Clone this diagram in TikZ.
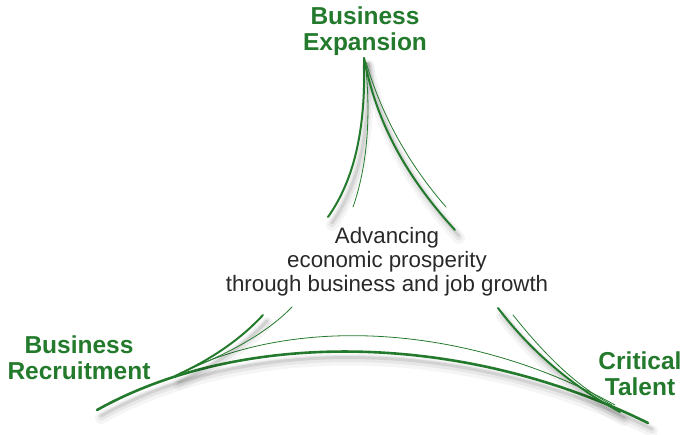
\documentclass[tikz,border=0pt]{standalone}
\usepackage{fontspec}
\setmainfont{Liberation Sans}
\definecolor{lgreen}{RGB}{36,122,44}
\definecolor{ctext}{RGB}{40,40,40}
\tikzset{
  shadowed/.style={preaction={draw=black,opacity=0.04,line width=12pt,line cap=round,transform canvas={shift={(4pt,-8pt)}}},
                   preaction={draw=black,opacity=0.06,line width=7pt,line cap=round,transform canvas={shift={(4pt,-7pt)}}},
                   preaction={draw=black,opacity=0.09,line width=3pt,line cap=round,transform canvas={shift={(4pt,-6pt)}}}},
  thickleaf/.style={draw=lgreen,line width=2pt,line cap=round,shadowed},
  thinleaf/.style={draw=lgreen,line width=0.8pt,line cap=round},
  head/.style={text=lgreen,font=\bfseries\fontsize{24.5}{26}\selectfont,align=center,inner sep=0pt},
  body/.style={text=ctext,font=\fontsize{22.3}{24}\selectfont,align=center,inner sep=0pt},
}
\begin{document}
\begin{tikzpicture}[x=1pt,y=-1pt]
\useasboundingbox (0,0) rectangle (684,434);
% top branch
\draw[thickleaf] (364,58) .. controls (366,130) and (354,180) .. (328,217);
\draw[thinleaf]  (365,60) .. controls (372,120) and (366,170) .. (353,207);
\draw[thickleaf] (364,58) .. controls (375,115) and (400,170) .. (455,230);
\draw[thinleaf]  (366,62) .. controls (380,110) and (405,160) .. (446,207);
% bottom arch
\draw[thickleaf,line width=2.6pt] (97,410) .. controls (240,330) and (460,330) .. (648,423);
\draw[thinleaf]  (185,371) .. controls (300,315) and (470,325) .. (615,405);
% left branches
\draw[thickleaf] (175,376) .. controls (210,360) and (240,340) .. (263,315);
\draw[thinleaf]  (180,373) .. controls (225,355) and (265,335) .. (292,307);
% right branches
\draw[thickleaf] (498,308) .. controls (530,350) and (570,385) .. (620,412);
\draw[thinleaf]  (513,315) .. controls (545,355) and (575,385) .. (612,405);
% labels
\node[head] (exp) at (365,31) {Business\\Expansion};
\node[head] (rec) at (79,358) {Business\\Recruitment};
\node[head] (tal) at (640,374) {Critical\\Talent};
\node[body] (mid) at (387,262) {Advancing\\economic prosperity\\through business and job growth};
\end{tikzpicture}
\end{document}
